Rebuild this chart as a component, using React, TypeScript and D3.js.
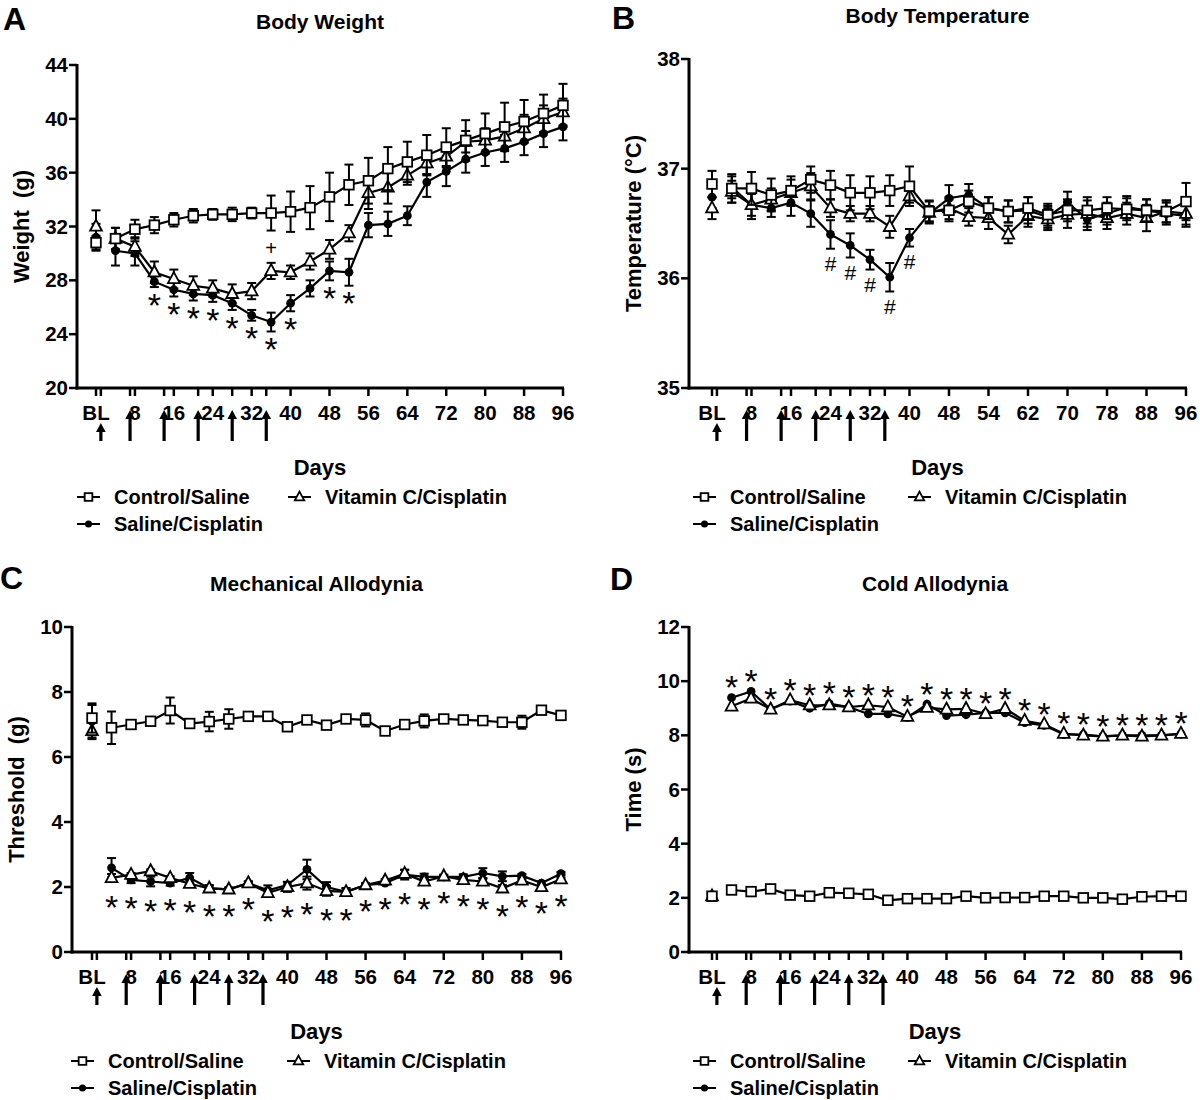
import React from "react";
import * as d3 from "d3";

// sampling days, BL plotted as day 0
const days = [0, 4, 8, 12, 16, 20, 24, 28, 32, 36, 40, 44, 48, 52, 56, 60, 64, 68, 72, 76, 80, 84, 88, 92, 96];
// cisplatin injections (arrows)
const doseDays = [1, 7, 14, 21, 28, 35];
const labelDays = [0, 8, 16, 24, 32, 40, 48, 56, 64, 72, 80, 88, 96];
const dayLabels = ["BL", "8", "16", "24", "32", "40", "48", "56", "64", "72", "80", "88", "96"];
const dayLabelsTemp = ["BL", "8", "16", "24", "32", "40", "48", "54", "62", "70", "78", "88", "96"];
const groupNames = ["Control/Saline", "Saline/Cisplatin", "Vitamin C/Cisplatin"];

// A - body weight (g)
const weightControl = [30.8, 31.1, 31.8, 32.1, 32.5, 32.8, 32.9, 32.9, 33.0, 33.0, 33.1, 33.4, 34.2, 35.1, 35.4, 36.3, 36.8, 37.3, 37.9, 38.4, 38.9, 39.4, 39.8, 40.4, 41.0];
const weightControlErr = [0.5, 0.8, 0.7, 0.6, 0.5, 0.5, 0.4, 0.5, 0.4, 1.3, 1.5, 1.6, 1.8, 1.5, 1.7, 1.6, 1.5, 1.5, 1.4, 1.5, 1.5, 1.8, 1.6, 1.4, 1.6];
const weightSaline = [31.2, 30.2, 30.0, 27.9, 27.3, 27.0, 26.9, 26.3, 25.4, 24.9, 26.3, 27.4, 28.7, 28.6, 32.1, 32.2, 32.8, 35.3, 36.1, 37.0, 37.5, 37.8, 38.3, 38.9, 39.4];
const weightSalineErr = [1.0, 1.1, 0.9, 0.4, 0.5, 0.5, 0.5, 0.5, 0.4, 0.7, 0.6, 0.6, 0.7, 1.0, 0.9, 0.9, 0.7, 1.1, 1.1, 1.0, 1.0, 1.0, 1.0, 1.0, 1.0];
const weightVitC = [32.0, 31.1, 30.5, 28.6, 28.1, 27.6, 27.4, 27.0, 27.2, 28.7, 28.6, 29.4, 30.3, 31.5, 34.5, 34.9, 35.8, 36.7, 37.2, 38.3, 38.4, 38.7, 39.3, 40.0, 40.5];
const weightVitCErr = [1.2, 0.8, 0.7, 0.8, 0.7, 0.7, 0.6, 0.7, 0.6, 0.6, 0.5, 0.6, 0.7, 0.6, 1.2, 1.2, 0.7, 0.8, 0.8, 0.8, 0.9, 1.0, 1.0, 1.0, 1.0];
const weightStarDays = [12, 16, 20, 24, 28, 32, 36, 40, 48, 52];
const weightPlusDays = [36];

// B - body temperature (°C)
const tempControl = [36.86, 36.82, 36.82, 36.76, 36.80, 36.90, 36.85, 36.78, 36.78, 36.80, 36.84, 36.61, 36.62, 36.70, 36.64, 36.61, 36.64, 36.58, 36.62, 36.62, 36.64, 36.63, 36.62, 36.61, 36.70];
const tempControlErr = [0.12, 0.13, 0.15, 0.15, 0.13, 0.12, 0.13, 0.16, 0.15, 0.14, 0.18, 0.1, 0.1, 0.1, 0.1, 0.1, 0.1, 0.1, 0.1, 0.12, 0.1, 0.1, 0.1, 0.1, 0.17];
const tempSaline = [36.74, 36.83, 36.67, 36.64, 36.69, 36.59, 36.40, 36.30, 36.17, 36.01, 36.37, 36.59, 36.73, 36.76, 36.64, 36.61, 36.62, 36.56, 36.69, 36.54, 36.59, 36.65, 36.62, 36.59, 36.57];
const tempSalineErr = [0.1, 0.1, 0.1, 0.08, 0.12, 0.12, 0.13, 0.11, 0.09, 0.13, 0.08, 0.07, 0.12, 0.1, 0.1, 0.1, 0.12, 0.1, 0.1, 0.1, 0.1, 0.1, 0.1, 0.1, 0.1];
const tempVitC = [36.64, 36.79, 36.67, 36.72, 36.78, 36.84, 36.64, 36.59, 36.59, 36.47, 36.75, 36.60, 36.64, 36.56, 36.55, 36.40, 36.57, 36.54, 36.58, 36.59, 36.55, 36.59, 36.55, 36.61, 36.59];
const tempVitCErr = [0.1, 0.1, 0.13, 0.1, 0.12, 0.12, 0.08, 0.07, 0.07, 0.1, 0.06, 0.1, 0.1, 0.08, 0.1, 0.08, 0.1, 0.1, 0.12, 0.12, 0.1, 0.1, 0.12, 0.1, 0.1];
const tempHashDays = [24, 28, 32, 36, 40];

// C - mechanical allodynia threshold (g)
const threshControl = [7.2, 6.9, 7.0, 7.1, 7.43, 7.03, 7.09, 7.17, 7.25, 7.25, 6.93, 7.14, 6.98, 7.17, 7.14, 6.8, 7.0, 7.11, 7.17, 7.14, 7.12, 7.07, 7.07, 7.44, 7.28];
const threshControlErr = [0.45, 0.5, 0.05, 0.08, 0.4, 0.05, 0.3, 0.3, 0.05, 0.08, 0.05, 0.12, 0.05, 0.05, 0.2, 0.1, 0.05, 0.2, 0.05, 0.1, 0.05, 0.08, 0.2, 0.1, 0.05];
const threshSaline = [7.1, 2.59, 2.22, 2.17, 2.12, 2.28, 1.96, 1.93, 2.12, 1.9, 2.06, 2.54, 2.0, 1.85, 2.06, 2.12, 2.38, 2.31, 2.31, 2.31, 2.43, 2.33, 2.35, 2.12, 2.41];
const threshSalineErr = [0.5, 0.3, 0.1, 0.15, 0.08, 0.15, 0.1, 0.05, 0.05, 0.15, 0.1, 0.3, 0.15, 0.1, 0.05, 0.05, 0.15, 0.1, 0.05, 0.08, 0.15, 0.15, 0.05, 0.05, 0.05];
const threshVitC = [6.8, 2.28, 2.38, 2.49, 2.28, 2.1, 1.96, 1.93, 2.12, 1.82, 2.0, 2.12, 1.88, 1.85, 2.06, 2.2, 2.41, 2.17, 2.33, 2.22, 2.17, 1.96, 2.2, 2.0, 2.24];
const threshVitCErr = [0.25, 0.12, 0.05, 0.05, 0.05, 0.1, 0.08, 0.05, 0.05, 0.1, 0.15, 0.2, 0.15, 0.12, 0.05, 0.05, 0.12, 0.08, 0.05, 0.05, 0.08, 0.1, 0.05, 0.05, 0.05];
const threshStarDays = [4, 8, 12, 16, 20, 24, 28, 32, 36, 40, 44, 48, 52, 56, 60, 64, 68, 72, 76, 80, 84, 88, 92, 96];

// D - cold allodynia time (s)
const coldControl = [2.06, 2.29, 2.23, 2.33, 2.1, 2.06, 2.19, 2.17, 2.13, 1.91, 1.97, 1.97, 1.97, 2.06, 2.0, 2.01, 2.01, 2.06, 2.06, 2.0, 2.0, 1.95, 2.04, 2.06, 2.06];
const coldSaline = [2.1, 9.39, 9.62, 8.96, 9.26, 9.0, 9.17, 9.04, 8.79, 8.79, 8.66, 9.15, 8.73, 8.76, 8.83, 8.83, 8.47, 8.37, 8.03, 8.03, 7.96, 8.0, 8.0, 8.0, 8.05];
const coldVitC = [2.06, 9.07, 9.36, 8.96, 9.3, 9.11, 9.11, 9.04, 9.11, 9.04, 8.69, 9.02, 8.96, 8.98, 8.79, 8.98, 8.54, 8.41, 8.06, 8.0, 7.96, 8.0, 7.96, 8.0, 8.06];
const coldStarDays = [4, 8, 12, 16, 20, 24, 28, 32, 36, 40, 44, 48, 52, 56, 60, 64, 68, 72, 76, 80, 84, 88, 92, 96];

const FONT = "'Liberation Sans', Arial, Helvetica, sans-serif";

type Shape = "square" | "circle" | "triangle";
type Series = { values: number[]; errors?: number[]; shape: Shape };
type Mark = { symbol: string; days: number[]; from: number[]; side: "below" | "above"; gap: number; size: number; weight: string; lift: number };
type Frame = { axisX: number; x0: number; x96: number; top: number; bottom: number; letterX: number; letterY: number; legendX: [number, number] };
type PanelDef = {
  letter: string; title: string; yLabel: string;
  yDomain: [number, number]; yTicks: number[]; tickLabels: string[];
  series: Series[]; marks: Mark[]; frame: Frame;
};

const shapes: Shape[] = ["square", "circle", "triangle"];

const panels: PanelDef[] = [
  {
    letter: "A", title: "Body Weight", yLabel: "Weight  (g)",
    yDomain: [20, 44], yTicks: [20, 24, 28, 32, 36, 40, 44], tickLabels: dayLabels,
    series: [
      { values: weightSaline, errors: weightSalineErr, shape: "circle" },
      { values: weightVitC, errors: weightVitCErr, shape: "triangle" },
      { values: weightControl, errors: weightControlErr, shape: "square" },
    ],
    marks: [
      { symbol: "*", days: weightStarDays, from: [0], side: "below", gap: 10, size: 34, weight: "normal", lift: 0.58 },
      { symbol: "+", days: weightPlusDays, from: [1], side: "above", gap: 15, size: 20, weight: "normal", lift: 0.34 },
    ],
    frame: { axisX: 77, x0: 96, x96: 563, top: 65, bottom: 388, letterX: 3, letterY: 30, legendX: [77, 288] },
  },
  {
    letter: "B", title: "Body Temperature", yLabel: "Temperature (°C)",
    yDomain: [35, 38], yTicks: [35, 36, 37, 38], tickLabels: dayLabelsTemp,
    series: [
      { values: tempSaline, errors: tempSalineErr, shape: "circle" },
      { values: tempVitC, errors: tempVitCErr, shape: "triangle" },
      { values: tempControl, errors: tempControlErr, shape: "square" },
    ],
    marks: [
      { symbol: "#", days: tempHashDays, from: [0], side: "below", gap: 15, size: 21, weight: "normal", lift: 0.36 },
    ],
    frame: { axisX: 689, x0: 712, x96: 1186, top: 59, bottom: 388, letterX: 612, letterY: 29, legendX: [693, 908] },
  },
  {
    letter: "C", title: "Mechanical Allodynia", yLabel: "Threshold  (g)",
    yDomain: [0, 10], yTicks: [0, 2, 4, 6, 8, 10], tickLabels: dayLabels,
    series: [
      { values: threshSaline, errors: threshSalineErr, shape: "circle" },
      { values: threshVitC, errors: threshVitCErr, shape: "triangle" },
      { values: threshControl, errors: threshControlErr, shape: "square" },
    ],
    marks: [
      { symbol: "*", days: threshStarDays, from: [0, 1], side: "below", gap: 17, size: 34, weight: "normal", lift: 0.58 },
    ],
    frame: { axisX: 72, x0: 92, x96: 561, top: 627, bottom: 952, letterX: 0, letterY: 589, legendX: [71, 287] },
  },
  {
    letter: "D", title: "Cold Allodynia", yLabel: "Time (s)",
    yDomain: [0, 12], yTicks: [0, 2, 4, 6, 8, 10, 12], tickLabels: dayLabels,
    series: [
      { values: coldSaline, shape: "circle" },
      { values: coldVitC, shape: "triangle" },
      { values: coldControl, shape: "square" },
    ],
    marks: [
      { symbol: "*", days: coldStarDays, from: [0, 1], side: "above", gap: 18, size: 34, weight: "normal", lift: 0.58 },
    ],
    frame: { axisX: 689, x0: 712, x96: 1181, top: 627, bottom: 952, letterX: 610, letterY: 590, legendX: [693, 908] },
  },
];

function Marker({ shape, x, y, s = 1 }: { shape: Shape; x: number; y: number; s?: number }) {
  if (shape === "square") {
    const h = 4.8 * s;
    return <rect x={x - h} y={y - h} width={2 * h} height={2 * h} fill="#fff" stroke="#000" strokeWidth={1.8} />;
  }
  if (shape === "circle") {
    return <circle cx={x} cy={y} r={4.4 * s} fill="#000" />;
  }
  const pts = [[x, y - 6.8 * s], [x + 5.9 * s, y + 4.2 * s], [x - 5.9 * s, y + 4.2 * s]].map((p) => p.join(",")).join(" ");
  return <polygon points={pts} fill="#fff" stroke="#000" strokeWidth={1.8} strokeLinejoin="miter" />;
}

function Panel({ p }: { p: PanelDef }) {
  const f = p.frame;
  const x = d3.scaleLinear().domain([0, 96]).range([f.x0, f.x96]);
  const y = d3.scaleLinear().domain(p.yDomain).range([f.bottom, f.top]);
  const cx = (f.axisX + f.x96) / 2;
  const cy = (f.top + f.bottom) / 2;
  const tickDays = Array.from(new Set([...labelDays, ...doseDays])).sort((a, b) => a - b);
  const line = d3.line<number>().x((d, i) => x(days[i + 1])).y((d) => y(d));

  const markPos = (m: Mark, day: number) => {
    const i = days.indexOf(day);
    const ys = m.from.map((k) => {
      const s = p.series[k];
      const e = s.errors ? s.errors[i] : 0;
      return m.side === "below" ? y(s.values[i] - e) : y(s.values[i] + e);
    });
    const yy = m.side === "below" ? Math.max(...ys) + m.gap : Math.min(...ys) - m.gap;
    return { x: x(day), y: yy + m.size * m.lift };
  };

  const legendEntries = [
    { k: 0, lx: f.legendX[0], ly: f.bottom + 109 },
    { k: 1, lx: f.legendX[0], ly: f.bottom + 136 },
    { k: 2, lx: f.legendX[1], ly: f.bottom + 109 },
  ];

  return (
    <g fontFamily={FONT} fill="#000">
      <text x={f.letterX} y={f.letterY} fontSize={32} fontWeight="bold">{p.letter}</text>
      <text x={cx} y={f.top - 36} fontSize={21} fontWeight="bold" textAnchor="middle">{p.title}</text>

      {/* y axis */}
      <line x1={f.axisX} x2={f.axisX} y1={f.top - 1} y2={f.bottom + 1.5} stroke="#000" strokeWidth={3} />
      {p.yTicks.map((t) => (
        <g key={"y" + t}>
          <line x1={f.axisX - 8} x2={f.axisX} y1={y(t)} y2={y(t)} stroke="#000" strokeWidth={2.5} />
          <text x={f.axisX - 9} y={y(t) + 7} fontSize={20.5} fontWeight="bold" textAnchor="end">{t}</text>
        </g>
      ))}
      <text transform={`translate(${f.axisX - 48},${cy}) rotate(-90)`} fontSize={22} fontWeight="bold" textAnchor="middle" style={{ whiteSpace: "pre" }}>{p.yLabel}</text>

      {/* x axis */}
      <line x1={f.axisX - 1.5} x2={f.x96 + 1} y1={f.bottom} y2={f.bottom} stroke="#000" strokeWidth={3} />
      {tickDays.map((t) => (
        <line key={"xt" + t} x1={x(t)} x2={x(t)} y1={f.bottom} y2={f.bottom + 8} stroke="#000" strokeWidth={2.5} />
      ))}
      {labelDays.map((t, i) => (
        <text key={"xl" + t} x={x(t)} y={f.bottom + 32} fontSize={20.5} fontWeight="bold" textAnchor="middle">{p.tickLabels[i]}</text>
      ))}
      {doseDays.map((t, i) => {
        const ax = x(t);
        const top = f.bottom + (i === 0 ? 35 : 22);
        const bot = f.bottom + 53;
        return (
          <g key={"ar" + t}>
            <rect x={ax - 1.6} y={top + 7} width={3.2} height={bot - top - 7} fill="#000" />
            <polygon points={`${ax},${top} ${ax - 4.8},${top + 9} ${ax + 4.8},${top + 9}`} fill="#000" />
          </g>
        );
      })}
      <text x={cx} y={f.bottom + 87} fontSize={22} fontWeight="bold" textAnchor="middle">Days</text>

      {/* series */}
      {p.series.map((s, k) => (
        <g key={"s" + k}>
          {s.errors && s.values.map((v, i) => {
            const e = s.errors![i];
            const px = x(days[i]);
            return (
              <g key={"e" + i} stroke="#000" strokeWidth={2}>
                <line x1={px} x2={px} y1={y(v - e)} y2={y(v + e)} />
                <line x1={px - 4.5} x2={px + 4.5} y1={y(v - e)} y2={y(v - e)} />
                <line x1={px - 4.5} x2={px + 4.5} y1={y(v + e)} y2={y(v + e)} />
              </g>
            );
          })}
          <path d={line(s.values.slice(1)) || ""} fill="none" stroke="#000" strokeWidth={2.2} />
          {s.values.map((v, i) => (
            <Marker key={"m" + i} shape={s.shape} x={x(days[i])} y={y(v)} />
          ))}
        </g>
      ))}

      {/* significance marks */}
      {p.marks.map((m, mi) =>
        m.days.map((d) => {
          const pos = markPos(m, d);
          return (
            <text key={`mk${mi}-${d}`} x={pos.x} y={pos.y} fontSize={m.size} fontWeight={m.weight} textAnchor="middle">{m.symbol}</text>
          );
        })
      )}

      {/* legend */}
      {legendEntries.map((le) => (
        <g key={"lg" + le.k}>
          <line x1={le.lx} x2={le.lx + 23} y1={le.ly} y2={le.ly} stroke="#000" strokeWidth={2} />
          <Marker shape={shapes[le.k]} x={le.lx + 11.5} y={le.ly} s={0.8} />
          <text x={le.lx + 37} y={le.ly + 7} fontSize={20} fontWeight="bold">{groupNames[le.k]}</text>
        </g>
      ))}
    </g>
  );
}

export default function App() {
  return (
    <div style={{ position: "absolute", left: 0, top: 0 }}>
      <svg width={1200} height={1100} style={{ display: "block", background: "#fff" }}>
        {panels.map((p) => (
          <Panel key={p.letter} p={p} />
        ))}
      </svg>
    </div>
  );
}
